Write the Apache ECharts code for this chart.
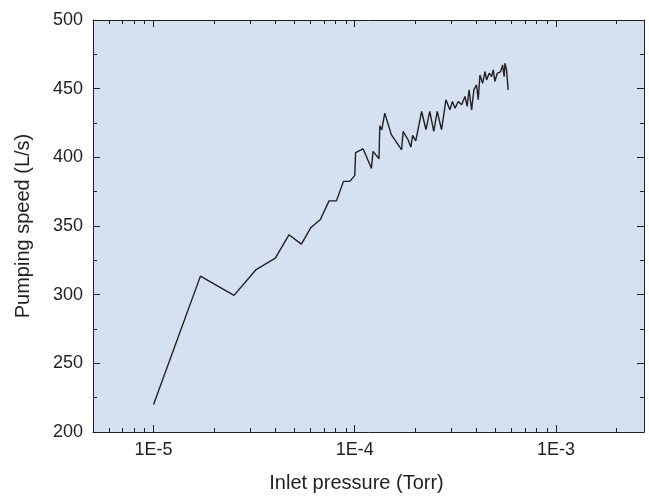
<!DOCTYPE html>
<html><head><meta charset="utf-8">
<script src="https://cdn.jsdelivr.net/npm/echarts@6/dist/echarts.min.js"></script>
<style>html,body{margin:0;padding:0;background:#fff}#c{width:649px;height:498px}</style>
</head><body><div id="c"></div>
<script>
// Inlet pressure (Torr)
const pressure = [1.00e-5,1.71e-5,2.51e-5,3.22e-5,4.03e-5,4.71e-5,5.43e-5,6.04e-5,6.75e-5,7.45e-5,8.11e-5,8.79e-5,9.44e-5,
  1.00e-4,1.01e-4,1.10e-4,1.21e-4,1.233e-4,1.32e-4,1.332e-4,1.362e-4,1.41e-4,1.52e-4,1.71e-4,1.74e-4,1.84e-4,1.90e-4,1.94e-4,2.01e-4,
  2.15e-4,2.26e-4,2.36e-4,2.47e-4,2.57e-4,2.70e-4,2.84e-4,2.97e-4,3.06e-4,3.15e-4,3.27e-4,3.40e-4,3.53e-4,3.62e-4,3.70e-4,3.81e-4,
  3.91e-4,4.03e-4,4.11e-4,4.19e-4,4.32e-4,4.44e-4,4.52e-4,4.66e-4,4.79e-4,4.88e-4,4.97e-4,5.11e-4,5.31e-4,5.43e-4,5.53e-4,5.58e-4,5.68e-4,5.79e-4];
// Pumping speed (L/s)
const speed = [220,313.5,299.5,318,326.6,343.6,336.8,348.7,354.7,368.3,368.3,382.5,382.5,
  386.7,403.5,406.2,392,404.3,399,423,420,432.2,416.5,405.5,418.9,412.8,407.5,416,412,
  433.4,420.1,433.4,418.9,433.4,420.1,441.9,434.6,440.7,435.8,440.7,438.3,444.3,437.1,449.1,434.6,
  449.1,452.8,441.9,460,453.9,462.4,456.4,461.2,458.8,463.7,455.2,461.2,462.4,467.3,458.8,468.5,463.7,449.1];
// Axis settings
const xMin = 5e-6, xMax = 2.74e-3;
const yMin = 200, yMax = 500, yStep = 50;
const xMinorTicks = [6e-6,7e-6,8e-6,9e-6,
  2e-5,3e-5,4e-5,5e-5,6e-5,7e-5,8e-5,9e-5,
  2e-4,3e-4,4e-4,5e-4,6e-4,7e-4,8e-4,9e-4,
  2e-3];

const ink = '#231f20';
const font = 'Liberation Sans, Arial, sans-serif';
const chart = echarts.init(document.getElementById('c'), null, {renderer:'canvas'});

function fmtX(v){
  const e = Math.log10(v);
  if (Math.abs(e - Math.round(e)) < 1e-6) return '1E' + Math.round(e);
  return '';
}

const xCommon = {
  type:'log', logBase:10, min:xMin, max:xMax,
  axisLine:{show:true, onZero:false, lineStyle:{color:ink, width:1}},
  axisTick:{show:true, inside:true, length:7, lineStyle:{color:ink, width:1}},
  splitLine:{show:false}, minorTick:{show:false}, minorSplitLine:{show:false}
};
const yCommon = {
  type:'value', min:yMin, max:yMax, interval:yStep,
  axisLine:{show:true, onZero:false, lineStyle:{color:ink, width:1}},
  axisTick:{show:true, inside:true, length:7, lineStyle:{color:ink, width:1}},
  minorTick:{show:true, splitNumber:2, length:4, lineStyle:{color:ink, width:1}},
  splitLine:{show:false}
};

chart.setOption({
  animation:false,
  backgroundColor:'#ffffff',
  grid:{left:93, right:5, top:20, bottom:65, show:true, backgroundColor:'#d5e0f1', borderWidth:0},
  xAxis:[
    Object.assign({}, xCommon, {position:'bottom',
      name:'Inlet pressure (Torr)', nameLocation:'middle', nameGap:41,
      nameTextStyle:{fontFamily:font, fontSize:20, color:ink, padding:[0,24,0,0]},
      axisLabel:{show:true, formatter:fmtX, fontFamily:font, fontSize:18, color:ink, margin:9, showMinLabel:false, showMaxLabel:false}}),
    Object.assign({}, xCommon, {position:'top', axisLabel:{show:false}})
  ],
  yAxis:[
    Object.assign({}, yCommon, {position:'left',
      name:'Pumping speed (L/s)', nameLocation:'middle', nameGap:60,
      nameTextStyle:{fontFamily:font, fontSize:20, color:ink},
      axisLabel:{show:true, fontFamily:font, fontSize:18, color:ink, margin:10}}),
    Object.assign({}, yCommon, {position:'right', axisLabel:{show:false}})
  ],
  series:[
    {type:'line', xAxisIndex:0, yAxisIndex:0, data:pressure.map((p,i)=>[p, speed[i]]),
     showSymbol:false, symbol:'none', lineStyle:{color:ink, width:1.4}, silent:true},
    {type:'custom', xAxisIndex:0, yAxisIndex:0, silent:true,
     data:xMinorTicks.map(v=>[v, yMin]),
     encode:{x:0, y:1},
     renderItem:function(params, api){
       const v = api.value(0);
       const b = api.coord([v, yMin]);
       const t = api.coord([v, yMax]);
       const x = Math.round(b[0]) + 0.5;
       return {type:'group', children:[
         {type:'line', shape:{x1:x, y1:b[1], x2:x, y2:b[1]-4}, style:{stroke:ink, lineWidth:1}},
         {type:'line', shape:{x1:x, y1:t[1], x2:x, y2:t[1]+4}, style:{stroke:ink, lineWidth:1}}
       ]};
     }}
  ]
});
</script>
</body></html>
